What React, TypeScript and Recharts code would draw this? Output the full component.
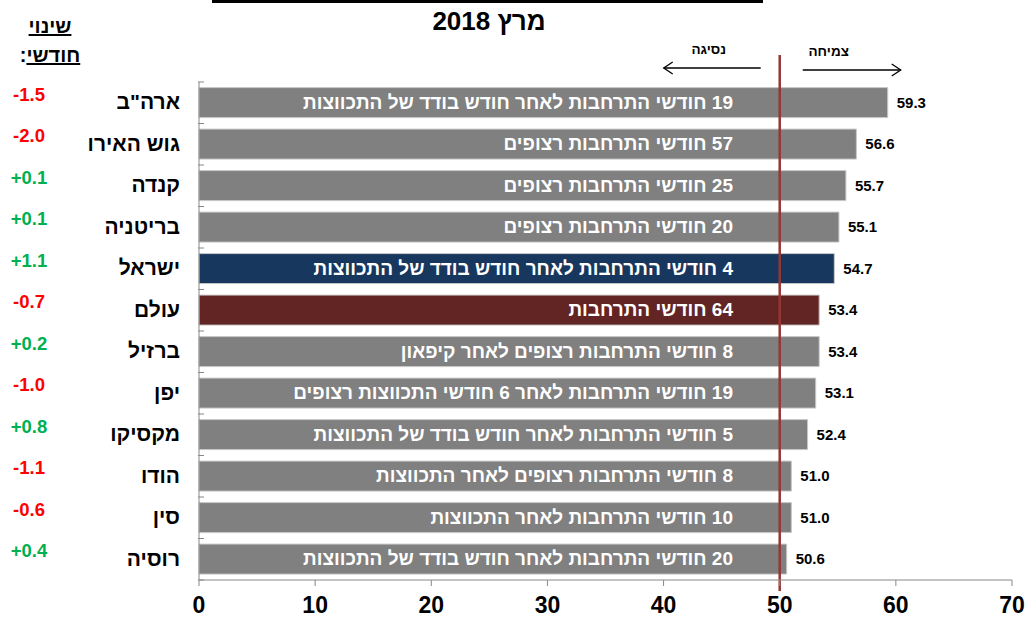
import React from 'react';
import { BarChart, Bar, XAxis, YAxis, Cell, LabelList, ReferenceLine } from 'recharts';

const RLM = '\u200F';
const FONT = '"Liberation Sans Narrow", "Liberation Sans", Arial, sans-serif';
const FONT_WIDE = '"Liberation Sans", Arial, sans-serif';

const countries = ['ארה"ב', 'גוש האירו', 'קנדה', 'בריטניה', 'ישראל', 'עולם', 'ברזיל', 'יפן', 'מקסיקו', 'הודו', 'סין', 'רוסיה'];
const pmi = [59.3, 56.6, 55.7, 55.1, 54.7, 53.4, 53.4, 53.1, 52.4, 51.0, 51.0, 50.6];
const monthlyChange = [-1.5, -2.0, 0.1, 0.1, 1.1, -0.7, 0.2, -1.0, 0.8, -1.1, -0.6, 0.4];
const notes = [
  '19 חודשי התרחבות לאחר חודש בודד של התכווצות',
  '57 חודשי התרחבות רצופים',
  '25 חודשי התרחבות רצופים',
  '20 חודשי התרחבות רצופים',
  '4 חודשי התרחבות לאחר חודש בודד של התכווצות',
  '64 חודשי התרחבות',
  '8 חודשי התרחבות רצופים לאחר קיפאון',
  '19 חודשי התרחבות לאחר 6 חודשי התכווצות רצופים',
  '5 חודשי התרחבות לאחר חודש בודד של התכווצות',
  '8 חודשי התרחבות רצופים  לאחר התכווצות',
  '10 חודשי התרחבות לאחר התכווצות',
  '20 חודשי התרחבות לאחר חודש בודד  של התכווצות',
];
const xTicks = [0, 10, 20, 30, 40, 50, 60, 70];
const threshold = 50;

const barColors: Record<string, string> = { 'ישראל': '#17375E', 'עולם': '#632523' };

const data = countries.map((name, i) => ({
  name,
  value: pmi[i],
  change: monthlyChange[i],
  note: notes[i],
}));

const fmtChange = (v: number) => (v > 0 ? '+' : '') + v.toFixed(1);

const CountryTick = (props: any) => {
  const { x, y, index, payload } = props;
  const change = monthlyChange[index];
  const band = 41.5;
  const last = index === countries.length - 1;
  return (
    <g>
      <line x1={x + 7} x2={x + 13} y1={y - band / 2} y2={y - band / 2} stroke="#888" />
      {last && <line x1={x + 7} x2={x + 13} y1={y + band / 2} y2={y + band / 2} stroke="#888" />}
      <text x={x - 11} y={y + 1} textAnchor="end" dominantBaseline="middle" fontFamily={FONT_WIDE} fontWeight="bold" fontSize={21} fill="#000">
        {payload.value}
      </text>
      <text x={x - 162} y={y - 7} textAnchor="middle" dominantBaseline="middle" fontFamily={FONT_WIDE} fontWeight="bold" fontSize={18.5} fill={change >= 0 ? '#00B050' : '#FF0000'}>
        {fmtChange(change)}
      </text>
    </g>
  );
};

const NoteLabel = (props: any) => {
  const { x, y, height, value } = props;
  return (
    <text x={x + 534} y={y + height / 2 + 1} textAnchor="end" dominantBaseline="middle" fontFamily={FONT} fontWeight="bold" fontSize={19} fill="#fff">
      {RLM + value}
    </text>
  );
};

const ThresholdLine = (props: any) => {
  const { x1 } = props;
  const top = Math.min(props.y1, props.y2);
  const bottom = Math.max(props.y1, props.y2);
  return (
    <g>
      <line x1={x1} x2={x1} y1={top - 27} y2={bottom + 11} stroke="#953735" strokeWidth={2.5} />
      <text x={x1 - 71} y={top - 32} textAnchor="middle" dominantBaseline="middle" fontFamily={FONT_WIDE} fontWeight="bold" fontSize={13.5} fill="#000">נסיגה</text>
      <line x1={x1 - 19} x2={x1 - 116} y1={top - 14} y2={top - 14} stroke="#000" strokeWidth={1.3} />
      <path d={`M${x1 - 107},${top - 20} L${x1 - 116},${top - 14} L${x1 - 107},${top - 8}`} fill="none" stroke="#000" strokeWidth={1.3} />
      <text x={x1 + 49} y={top - 30} textAnchor="middle" dominantBaseline="middle" fontFamily={FONT_WIDE} fontWeight="bold" fontSize={13.5} fill="#000">צמיחה</text>
      <line x1={x1 + 23} x2={x1 + 121} y1={top - 12} y2={top - 12} stroke="#000" strokeWidth={1.3} />
      <path d={`M${x1 + 112},${top - 18} L${x1 + 121},${top - 12} L${x1 + 112},${top - 6}`} fill="none" stroke="#000" strokeWidth={1.3} />
    </g>
  );
};

export default function App() {
  return (
    <div style={{ position: 'absolute', left: 0, top: 0, width: 1028, height: 619, background: '#fff', fontFamily: FONT_WIDE }}>
      <div style={{ position: 'absolute', left: 212, top: 0, width: 551, height: 3, background: '#000' }} />
      <div dir="rtl" style={{ position: 'absolute', left: 380, top: 6, width: 218, textAlign: 'center', fontFamily: FONT, fontWeight: 'bold', fontSize: 26 }}>
        מרץ 2018
      </div>
      <div dir="rtl" style={{ position: 'absolute', left: 0, top: 12, width: 100, textAlign: 'center', fontWeight: 'bold', fontSize: 20, lineHeight: '29px' }}>
        <span style={{ textDecoration: 'underline' }}>שינוי</span>
        <br />
        <span style={{ textDecoration: 'underline' }}>חודשי</span>:
      </div>
      <BarChart
        width={1028}
        height={619}
        data={data}
        layout="vertical"
        margin={{ top: 82, right: 16, bottom: 0, left: 0 }}
        barCategoryGap="13.5%"
        style={{ position: 'absolute', left: 0, top: 0 }}
      >
        <XAxis
          type="number"
          domain={[0, 70]}
          ticks={xTicks}
          interval={0}
          height={39}
          axisLine={{ stroke: '#888' }}
          tickLine={{ stroke: '#888' }}
          tickSize={6}
          tickMargin={11}
          tick={{ fontFamily: FONT, fontWeight: 'bold', fontSize: 23, fill: '#000' }}
        />
        <YAxis
          type="category"
          dataKey="name"
          width={199}
          axisLine={{ stroke: '#888' }}
          tickLine={false}
          tick={<CountryTick />}
          interval={0}
        />
        <Bar dataKey="value" stroke="#C8C8C8" strokeWidth={1} isAnimationActive={false}>
          {data.map((d) => (
            <Cell key={d.name} fill={barColors[d.name] ?? '#808080'} />
          ))}
          <LabelList dataKey="note" content={<NoteLabel />} />
          <LabelList
            dataKey="value"
            position="right"
            offset={9}
            formatter={(v: any) => Number(v).toFixed(1)}
            style={{ fontFamily: FONT, fontWeight: 'bold', fontSize: 15, fill: '#000' }}
          />
        </Bar>
        <ReferenceLine x={threshold} stroke="#953735" shape={<ThresholdLine />} />
      </BarChart>
    </div>
  );
}
